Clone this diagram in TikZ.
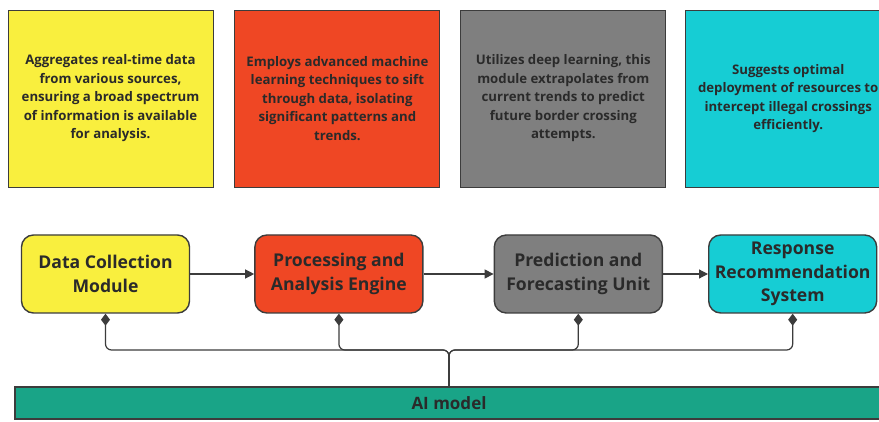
\documentclass[tikz,border=0pt]{standalone}
\usepackage{fontspec}
\setmainfont{Open Sans}
\usepackage{tikz}
\usetikzlibrary{arrows.meta}
\usetikzlibrary{positioning}

\definecolor{cyellow}{HTML}{F9EF3E}
\definecolor{cred}{HTML}{EF4724}
\definecolor{cgrey}{HTML}{7F7F7F}
\definecolor{ccyan}{HTML}{16CDD4}
\definecolor{cteal}{HTML}{19A487}
\definecolor{cline}{HTML}{3C3C3C}
\definecolor{ctext}{HTML}{2A2A2A}

\begin{document}
\begin{tikzpicture}[x=1pt,y=1pt]
\tikzstyle{note}=[rectangle,draw=cline,line width=0.9pt,text=ctext,
minimum width=205pt,minimum height=177pt,inner sep=0pt,align=center,
font=\fontsize{13.2}{18.5}\selectfont\bfseries]
\tikzstyle{stage}=[rectangle,rounded corners=12pt,draw=cline,line width=1.4pt,
text=ctext,minimum width=168pt,minimum height=78pt,inner sep=0pt,align=center,
font=\fontsize{17.6}{23.5}\selectfont\bfseries]
\tikzstyle{flow}=[draw=cline,line width=1.2pt,-{Triangle[length=9pt,width=9pt]}]
\tikzstyle{link}=[draw=cline,line width=1.2pt,rounded corners=6pt,
{Diamond[length=12pt,width=9pt]}-]
\useasboundingbox (0,0) rectangle (879,-422);
\fill[white] (0,0) rectangle (879,-422);

% description boxes
\node[note,fill=cyellow] (dcnote) at (110.5,-98.5)
{Aggregates real-time data\\from various sources,\\ensuring a broad spectrum\\of information is available\\for analysis.};
\node[note,fill=cred] (panote) [right=21pt of dcnote]
{Employs advanced machine\\learning techniques to sift\\through data, isolating\\significant patterns and\\trends.};
\node[note,fill=cgrey] (pfnote) [right=20pt of panote]
{Utilizes deep learning, this\\module extrapolates from\\current trends to predict\\future border crossing\\attempts.};
\node[note,fill=ccyan] (rsnote) [right=19pt of pfnote]
{Suggests optimal\\deployment of resources to\\intercept illegal crossings\\efficiently.};

% pipeline
\node[stage,fill=cyellow] (dc) at (105.5,-274) {Data Collection\\Module};
\node[stage,fill=cred] (pa) [right=64pt of dc] {Processing and\\Analysis Engine};
\node[stage,fill=cgrey] (pf) [right=70pt of pa] {Prediction and\\Forecasting Unit};
\node[stage,fill=ccyan] (rs) [right=45pt of pf] {Response\\Recommendation\\System};

\draw[flow] (dc) -- (pa);
\draw[flow] (pa) -- (pf);
\draw[flow] (pf) -- (rs);

% model bar
\node[rectangle,draw=cline,line width=1.4pt,fill=cteal,text=ctext,
minimum width=868pt,minimum height=32pt,inner sep=0pt,
font=\fontsize{17}{20}\selectfont\bfseries] (ai) at (449,-403) {AI model};
\coordinate (bus) at (449,-350);

\draw[link] (dc.south) |- (bus) -- (ai.north);
\draw[link] (pa.south) |- (bus) -- (ai.north);
\draw[link] (pf.south) |- (bus) -- (ai.north);
\draw[link] (rs.south) |- (bus) -- (ai.north);
\end{tikzpicture}
\end{document}
